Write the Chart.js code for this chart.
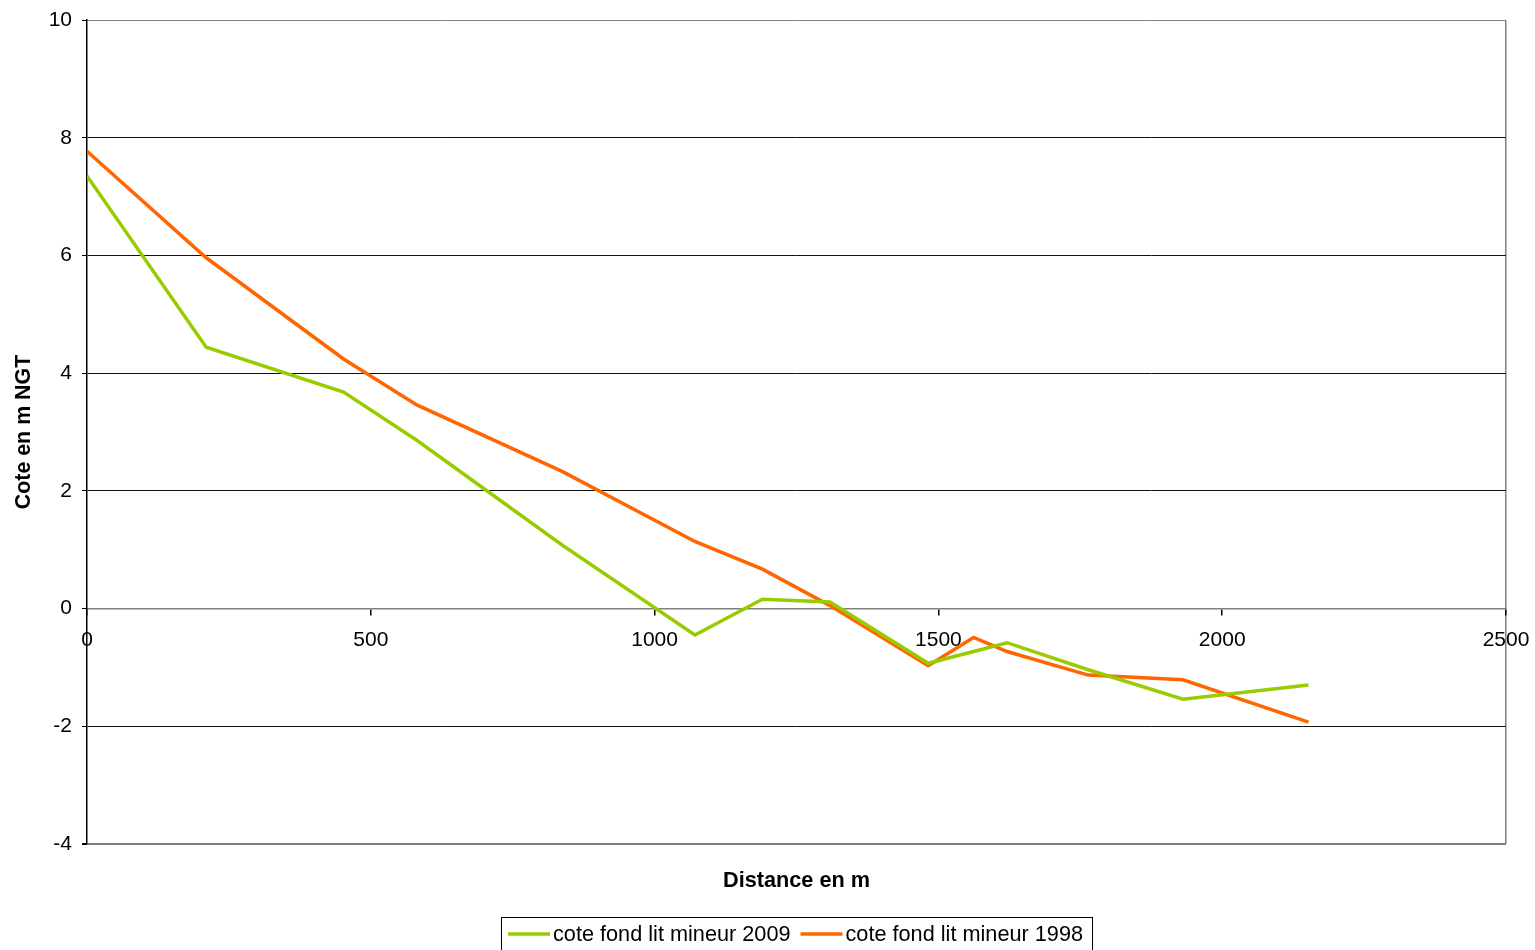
<!DOCTYPE html>
<html>
<head>
<meta charset="utf-8">
<script src="https://cdn.jsdelivr.net/npm/chart.js@4/dist/chart.umd.min.js"></script>
<style>
  html, body { margin: 0; padding: 0; background: #fff; }
  #wrap { width: 1535px; height: 950px; }
</style>
</head>
<body>
<div id="wrap"><canvas id="c" width="1535" height="950"></canvas></div>
<script>
// Profil en long : distance (m) et cote du fond du lit mineur (m NGT)
const distances = [0, 210, 452, 581, 837, 1071, 1190, 1309, 1482, 1562, 1621, 1764, 1931, 2152];
const cote2009 = [7.35, 4.44, 3.68, 2.86, 1.08, -0.45, 0.16, 0.11, -0.93, -0.73, -0.58, -1.04, -1.54, -1.30];
const cote1998 = [7.77, 5.96, 4.24, 3.46, 2.33, 1.14, 0.67, 0.05, -0.97, -0.49, -0.73, -1.13, -1.21, -1.93];
const xTickValues = [0, 500, 1000, 1500, 2000, 2500];
const seriesLabels = ['cote fond lit mineur 2009', 'cote fond lit mineur 1998'];
const seriesColors = ['#99CC00', '#FF6600'];
const xTitle = 'Distance en m';
const yTitle = 'Cote en m NGT';

const FONT = '"Liberation Sans", Arial, sans-serif';

function toPoints(xs, ys) {
  return xs.map((x, i) => ({ x: x, y: ys[i] }));
}

// Titres d'axes et légende encadrée
const decorations = {
  id: 'decorations',
  afterDraw(chart) {
    const ctx = chart.ctx;
    const area = chart.chartArea;
    ctx.save();
    ctx.fillStyle = '#000';
    ctx.textAlign = 'center';
    ctx.textBaseline = 'middle';
    ctx.font = 'bold 21.7px ' + FONT;
    ctx.fillText(xTitle, (area.left + area.right) / 2, 881);
    ctx.save();
    ctx.translate(24, (area.top + area.bottom) / 2);
    ctx.rotate(-Math.PI / 2);
    ctx.font = 'bold 21.4px ' + FONT;
    ctx.fillText(yTitle, 0, 0);
    ctx.restore();

    // légende
    ctx.font = '21.7px ' + FONT;
    ctx.textAlign = 'left';
    const lineLen = 42, gap = 3, between = 10;
    const boxLeft = 501, boxTop = 917, boxH = 33;
    let x = boxLeft + 7;
    const cy = boxTop + 17;
    seriesLabels.forEach((t, i) => {
      ctx.strokeStyle = seriesColors[i];
      ctx.lineWidth = 3.5;
      ctx.beginPath();
      ctx.moveTo(x, cy);
      ctx.lineTo(x + lineLen, cy);
      ctx.stroke();
      x += lineLen + gap;
      ctx.fillStyle = '#000';
      ctx.fillText(t, x, cy + 1);
      x += ctx.measureText(t).width + (i < seriesLabels.length - 1 ? between : 0);
    });
    ctx.strokeStyle = '#000';
    ctx.lineWidth = 1;
    ctx.strokeRect(boxLeft + 0.5, boxTop + 0.5, x + 9 - boxLeft, boxH);
    ctx.restore();
  }
};

new Chart(document.getElementById('c'), {
  type: 'line',
  data: {
    datasets: [
      {
        label: seriesLabels[0],
        data: toPoints(distances, cote2009),
        borderColor: seriesColors[0],
        backgroundColor: seriesColors[0],
        borderWidth: 3.5,
        pointRadius: 0,
        tension: 0,
        fill: false
      },
      {
        label: seriesLabels[1],
        data: toPoints(distances, cote1998),
        borderColor: seriesColors[1],
        backgroundColor: seriesColors[1],
        borderWidth: 3.5,
        pointRadius: 0,
        tension: 0,
        fill: false
      }
    ]
  },
  options: {
    responsive: false,
    animation: false,
    events: [],
    layout: { padding: { left: 0, right: 29, top: 20, bottom: 106 } },
    plugins: {
      legend: { display: false },
      tooltip: { enabled: false }
    },
    scales: {
      x: {
        type: 'linear',
        position: { y: 0 },
        min: 0,
        max: 2500,
        afterFit(scale) {
          scale.height = 0;
          scale.paddingLeft = 0;
          scale.paddingRight = 0;
        },
        afterBuildTicks(scale) {
          scale.ticks = xTickValues.map(v => ({ value: v }));
        },
        ticks: {
          color: '#000',
          font: { family: FONT, size: 21 },
          padding: 13,
          maxRotation: 0,
          autoSkip: false,
          callback: v => String(v)
        },
        grid: {
          drawOnChartArea: true,
          color: ctx => (ctx.tick && ctx.tick.value === 2500) ? '#808080' : 'rgba(0,0,0,0)',
          tickColor: '#000',
          tickLength: 6,
          lineWidth: 1.5
        },
        border: { display: true, color: '#808080', width: 1.5 }
      },
      y: {
        type: 'linear',
        min: -4,
        max: 10,
        afterFit(scale) {
          scale.width = 87;
          scale.paddingTop = 0;
          scale.paddingBottom = 0;
        },
        ticks: {
          stepSize: 2,
          color: '#000',
          font: { family: FONT, size: 21 },
          padding: 10,
          callback: v => String(v)
        },
        grid: {
          color: ctx => {
            const v = ctx.tick ? ctx.tick.value : null;
            return (v === 10 || v === -4) ? '#808080' : '#111';
          },
          lineWidth: ctx => {
            const v = ctx.tick ? ctx.tick.value : null;
            return (v === -4) ? 2 : 1;
          },
          tickColor: '#000',
          tickLength: 5
        },
        border: { display: true, color: '#000', width: 1.5 }
      }
    }
  },
  plugins: [decorations]
});
</script>
</body>
</html>
